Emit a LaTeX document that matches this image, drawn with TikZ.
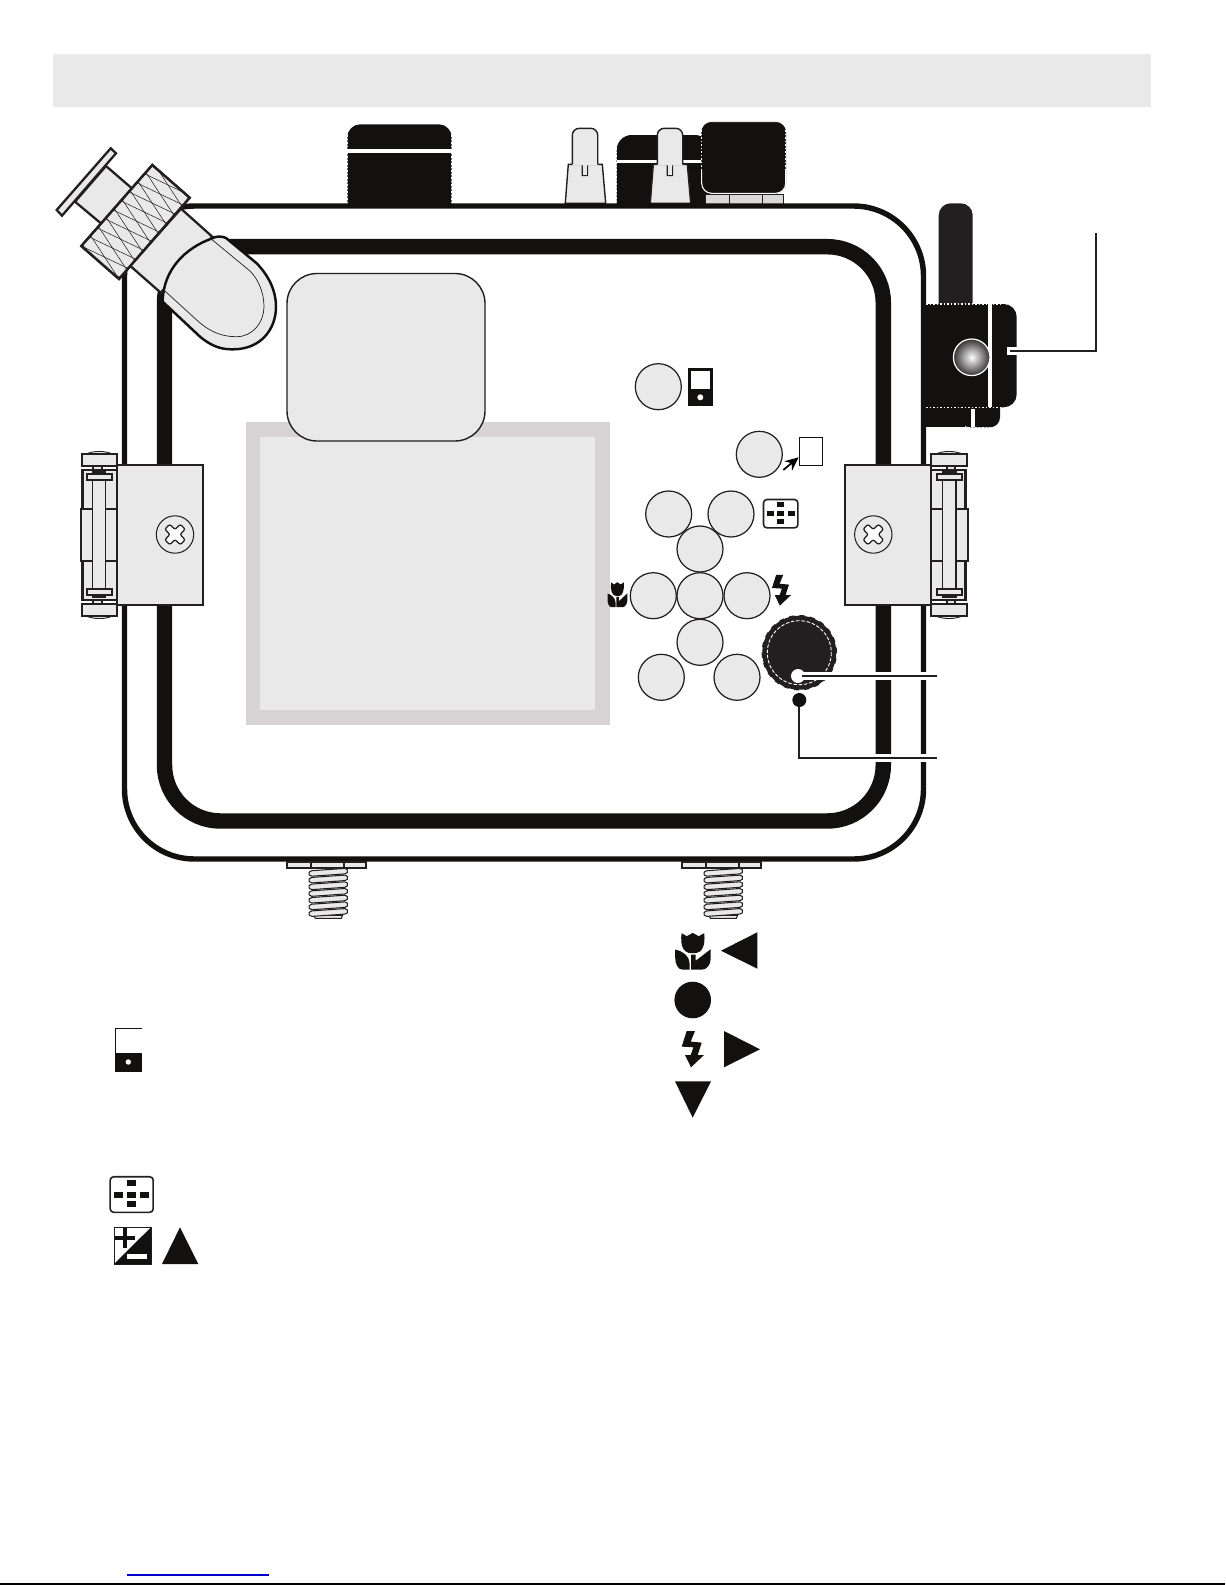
\documentclass[tikz,border=0pt]{standalone}
\usetikzlibrary{arrows.meta}
\definecolor{ink}{HTML}{12110F}
\definecolor{softink}{HTML}{231F20}
\definecolor{panel}{HTML}{E9E9E9}
\definecolor{lcdframe}{HTML}{D7D3D4}
\definecolor{foot}{HTML}{D9D9D9}
\definecolor{linkblue}{HTML}{0000CC}
\tikzstyle{button} = [circle, draw=softink, fill=panel, line width=0.7pt, minimum size=0.92cm, inner sep=0pt]
\tikzstyle{part} = [draw=softink, fill=panel, line width=1.1pt]
\tikzstyle{thinpart} = [draw=softink, fill=panel, line width=0.6pt]
\tikzstyle{leader} = [draw=softink, line width=1.3pt, preaction={draw=white, line width=4.6pt}]
\tikzstyle{arrow} = [line width=1pt,-{Stealth[length=0.27cm,width=0.24cm]}]
\tikzstyle{serration} = [draw=white, line width=0.8pt, dash pattern=on 0.9pt off 1.1pt]
\tikzset{
  latch/.pic={
    \fill [softink!10!white, draw=softink, line width=0.5pt] (-32,-10.7) .. controls (-24,-14.5) and (-12,-14.5) .. (-4,-10.7);
    \fill [softink!10!white, draw=softink, line width=0.5pt] (-32,150.7) .. controls (-24,154.5) and (-12,154.5) .. (-4,150.7);
    \draw [part] (-24,0.7) rectangle (-15.6,5);
    \draw [part] (-24,135) rectangle (-15.6,139.3);
    \draw [part] (-35.6,-10.7) rectangle (0,0.7);
    \draw [part] (-35.6,139.3) rectangle (0,150.7);
    \draw [part, line width=1.5pt] (-34.6,5) rectangle (0,135);
    \draw [part] (-36.6,43.7) rectangle (0,96);
    \draw [thinpart, line width=0.8pt] (-25,7) rectangle (-11.6,132);
    \draw [part] (-30.6,9.3) rectangle (-5.6,15);
    \draw [part] (-30.6,124.3) rectangle (-5.6,130);
    \draw [part] (0,0) rectangle (86,140);
    \draw [thinpart] (57.7,69.5) circle (18.7);
    \draw [fill=white, draw=softink, line width=0.7pt, rounded corners=0.04cm, rotate around={45:(57.7,69.5)}, shift={(57.7,69.5)}]
      (-3.5,-11) -- (3.5,-11) -- (3.5,-3.5) -- (11,-3.5) -- (11,3.5) -- (3.5,3.5) -- (3.5,11) -- (-3.5,11) -- (-3.5,3.5) -- (-11,3.5) -- (-11,-3.5) -- (-3.5,-3.5) -- cycle;
  },
  lever/.pic={
    \draw [thinpart, line width=0.8pt] (-4,36) -- (10,36) -- (10,47) -- (15,47) -- (15,36) -- (30,36) -- (33.4,75) -- (-7,75) -- cycle;
    \fill [panel, rounded corners=0.14cm] (0,37) -- (0,0) -- (25.4,0) -- (25.4,37);
    \draw [softink, line width=0.8pt, rounded corners=0.14cm] (0,36) -- (0,0) -- (25.4,0) -- (25.4,36);
    \fill [panel] (10.4,35) rectangle (14.6,46.6);
  },
  tripod screw/.pic={
    \draw [thinpart] (-14.3,47) -- (14.3,47) -- (13,50) -- (-13,50) -- cycle;
    \foreach \y in {0,6.7,...,40.2}
      \draw [thinpart, rounded corners=0.03cm] (-18,\y+2.5) -- (18,\y) -- (20,\y+3) -- (18,\y+5.5) -- (-18,\y+8) -- (-20,\y+5) -- cycle;
    \draw [part] (-41.6,-6.3) rectangle (37.4,0);
    \draw [softink, line width=1.3pt] (-17.6,-6.3) -- (-17.6,0);
    \draw [softink, line width=1.3pt] (16,-6.3) -- (16,0);
  },
  tulip/.pic={
    \fill [ink] (-11,-18.5) -- (-6,-15.5) -- (0,-18.8) -- (6,-15.5) -- (11.5,-18.5) .. controls (13,-6) and (9,1) .. (3,1.5) -- (-2,1.5) .. controls (-9,1) and (-13,-6) .. (-11,-18.5) -- cycle;
    \fill [ink] (-17.5,-2) .. controls (-10,-1) and (-3,5) .. (-3,12) -- (-3,18) -- (-10,18) .. controls (-15,18) and (-17.5,12) .. (-17.5,6) -- cycle;
    \fill [ink] (-1.5,3) -- (3,3) -- (3,9) -- (18,-2.5) -- (18,7) .. controls (18,13) and (14,18) .. (9,18) -- (-1.5,18) -- cycle;
  },
  bolt/.pic={
    \fill [ink] (-6,-18.3) -- (2.3,-18.3) -- (-2,-7.7) -- (9,-6.7) -- (5,5.7) -- (11.3,5.7) -- (-1.7,18) -- (-7.7,5.7) -- (-2,5.7) -- (0.7,-2) -- (-11,-2.7) -- cycle;
  },
  focus grid/.pic={
    \draw [fill=white, draw=softink, line width=0.9pt, rounded corners=0.07cm] (-21.5,-17.8) rectangle (21.5,17.8);
    \foreach \a/\b in {0/-11.3, -13/0, 0/0, 13/0, 0/9.7}
      \fill [ink] (\a-4.5,\b-3) rectangle (\a+4.5,\b+3);
  }
}
\begin{document}
\begin{tikzpicture}[x=0.02cm, y=-0.02cm]
\useasboundingbox (0,0) rectangle (1225,1585);

\fill [panel] (52.6,53.6) rectangle (1151,107);

% knobs along the top edge
\fill [ink, rounded corners=0.26cm] (347.3,206) -- (347.3,124.3) -- (451.7,124.3) -- (451.7,206);
\fill [white] (347.3,148.7) rectangle (451.7,152.7);
\draw [serration] (347.3,135) -- (347.3,206);
\draw [serration] (451.7,135) -- (451.7,206);
\fill [ink, rounded corners=0.3cm] (616.7,206) -- (616.7,135) -- (710,135) -- (710,206);
\fill [white] (616.7,160) rectangle (705,163.3);
\draw [serration] (616.7,148) -- (616.7,206);
\pic at (572.3,128.3) {lever};
\pic at (657.3,128.3) {lever};
\fill [foot, draw=softink, line width=0.5pt] (705,194) rectangle (729,204);
\fill [foot, draw=softink, line width=0.5pt] (729,194) rectangle (762.3,204);
\fill [foot, draw=softink, line width=0.5pt] (762.3,194) rectangle (783.3,204);
\draw [ink, fill=ink, line width=0.4pt, rounded corners=0.2cm] (701.7,122.3) rectangle (785.7,193.3);
\draw [white, line width=0.6pt, rounded corners=0.2cm] (701.7,170) -- (701.7,193.3) -- (785.7,193.3) -- (785.7,170);
\draw [serration] (701.7,130) -- (701.7,180);
\draw [serration] (785.7,130) -- (785.7,180);

% strobe socket on the right
\fill [softink, rounded corners=0.24cm] (938.7,305) -- (938.7,203.3) -- (972.7,203.3) -- (972.7,305);
\fill [ink, rounded corners=0.2cm] (960,407) -- (960,427.3) -- (1000,427.3) -- (1000,407);
\fill [ink] (925,407) rectangle (965,427.3);
\fill [ink, rounded corners=0.26cm] (960,304) -- (1016.7,304) -- (1016.7,407.3) -- (960,407.3);
\fill [ink] (925,304) rectangle (965,407.3);
\fill [white] (988,304) rectangle (992,407.3);
\fill [white] (971.3,409) rectangle (975.3,427.3);
\draw [serration] (926,304) -- (1000,304);
\draw [serration] (926,407.3) -- (1003,407.3);
\draw [serration] (926,427.3) -- (990,427.3);
\fill [white] (1006.7,346.7) rectangle (1017,355);
\shade [inner color=white, outer color=softink!90!white] (971.7,357.3) circle (18);
\draw [white, line width=0.7pt] (971.7,357.3) circle (18.3);

% housing, gasket and screen
\draw [fill=white, draw=ink, line width=3.1pt, rounded corners=1.4cm] (124.5,206) rectangle (923.5,859);
\draw [draw=ink, line width=8.8pt, rounded corners=1.12cm] (164.5,246.7) rectangle (883.3,821);
\fill [lcdframe] (245.6,422.3) rectangle (610,725);
\fill [panel] (259.8,436.6) rectangle (595.3,709.5);
\draw [panel, fill=panel, draw=softink, line width=0.8pt, rounded corners=0.6cm] (287,273.5) rectangle (485,441);

\pic at (328.3,868.3) {tripod screw};
\pic at (723.3,868.3) {tripod screw};

% view finder
\draw [part, line width=1.3pt] (56.7,210) -- (110.7,148.3) -- (116,153.3) -- (62,215.7) -- cycle;
\draw [part, line width=1.3pt] (106,166) -- (132.3,188.7) -- (101.7,224) -- (75,201.7) -- cycle;
\draw [part, line width=1.3pt] (181,208.7) -- (212.3,236.7) -- (160.7,292.7) -- (130,265.7) -- cycle;
\draw [part, line width=1.3pt] (152.3,165) -- (189.7,197.7) -- (119,279) -- (81.3,246) -- cycle;
\begin{scope}[shift={(81.3,246)}, rotate=48.8]
\clip (0,0) rectangle (108,50);
\foreach \t in {-24,-12,...,120} {
  \draw [softink, line width=0.3pt] (\t,0) -- (\t+14,50);
  \draw [softink, line width=0.3pt] (\t+14,0) -- (\t,50);
}
\end{scope}
\draw [draw=softink, line width=1.3pt] (152.3,165) -- (189.7,197.7) -- (119,279) -- (81.3,246) -- cycle;
\draw [part, draw=ink, line width=1.4pt] (162.7,301.7) -- (200,336.7) .. controls (215,349) and (225,349.3) .. (233.3,349.3) .. controls (260,349.3) and (276,330) .. (276,306.7) .. controls (276,290) and (268,275) .. (256.7,263.3) -- (226,238) .. controls (222,236) and (216,236) .. (212.3,238.3) .. controls (185,248) and (163,270) .. (162.7,301.7) -- cycle;
\draw [softink, line width=0.4pt] (162.7,289) -- (196.7,320) .. controls (212,334) and (225,336.7) .. (236.7,336.7) .. controls (253,336.7) and (264,322) .. (264,306.7) .. controls (264,292) and (258,279) .. (250,271) -- (210,238);

% latches
\pic at (117.3,465) {latch};
\pic [xscale=-1] at (931,465) {latch};

% buttons
\node (display) [button] at (658.3,386.7) {};
\node (shutter) [button] at (759.3,454.3) {};
\node (menu) [button] at (668.7,514) {};
\node (afpoint) [button] at (731,514) {};
\node (up) [button] at (700,549) {};
\node (left) [button] at (653.3,595.7) {};
\node (okay) [button] at (700,595.7) {};
\node (right) [button] at (747,595.7) {};
\node (down) [button] at (700,642.3) {};
\node (play) [button] at (661.3,677.3) {};
\node (erase) [button] at (737,677.3) {};

% mode dial
\node (dial) [circle, fill=softink, draw=softink, dashed, line width=0.8pt, minimum size=1.48cm, inner sep=0pt] at (799.3,652.7) {};
\draw [white, line width=0.5pt, dash pattern=on 2pt off 1pt] (dial.center) circle (32);

% small symbols beside the buttons
\node (memory) [rectangle, fill=ink, minimum width=0.5cm, minimum height=0.75cm, inner sep=0pt] at (700.5,386.8) {};
\fill [white] (691.3,371) rectangle (710,388.7);
\fill [white] (700.3,397.3) circle (3);
\node (frame) [rectangle, draw=ink, fill=white, line width=0.7pt, minimum width=0.47cm, minimum height=0.57cm, inner sep=0pt] at (811,451.5) {};
\coordinate (framefoot) at (783.3,470);
\draw [arrow] (framefoot) -- (frame.west |- 0,457.3);
\pic [scale=0.8] at (780.7,513.7) {focus grid};
\pic [xscale=0.56, yscale=0.68] at (617.3,595) {tulip};
\pic [scale=0.85] at (781.3,590.3) {bolt};

% leaders
\coordinate (strobeend) at (1095.7,233.3);
\coordinate (dialend) at (937,676);
\coordinate (leverend) at (937,757.7);
\coordinate (dialcentre) at (798,676);
\coordinate (levercentre) at (799.3,700);
\draw [softink, line width=1.1pt] (1010,351) -- (1095.7,351) -- (strobeend);
\path [leader] (dialcentre) -- (dialend);
\path [leader] (levercentre) -- (799.3,757.7) -- (leverend);
\node (dialmark) [circle, fill=white, minimum size=0.28cm, inner sep=0pt] at (dialcentre) {};
\node (leverdot) [circle, fill=ink, minimum size=0.28cm, inner sep=0pt] at (levercentre) {};
\draw [softink, line width=1.3pt] (dialcentre) ++(4,0) -- ++(8,0);

% legend symbols
\pic at (692.7,951.7) {tulip};
\fill [ink] (721,950.7) -- (757.3,932.3) -- (757.3,968.7) -- cycle;
\fill [ink] (692.7,1000) circle (18.3);
\pic at (692.7,1049.3) {bolt};
\fill [ink] (724,1031) -- (760,1049.3) -- (724,1067.3) -- cycle;
\fill [ink] (675,1081.3) -- (711,1081.3) -- (692.7,1117.7) -- cycle;

\draw [ink, line width=0.6pt] (142,1028.3) -- (115.3,1028.3) -- (115.3,1053);
\fill [ink] (115,1052.7) rectangle (142,1071.7);
\fill [white] (128.3,1062) circle (2.7);
\pic at (131.7,1194.5) {focus grid};

\draw [draw=softink, line width=0.4pt, fill=white] (114,1227.3) rectangle (151,1264);
\fill [ink] (114,1264) -- (151,1227.3) -- (151,1264) -- cycle;
\fill [ink] (115,1235.7) rectangle (135,1239.7);
\fill [ink] (123,1228.3) rectangle (127,1248.3);
\fill [white] (126.7,1254.3) rectangle (146.7,1258.7);
\fill [ink] (162,1264) -- (198.3,1264) -- (180,1227.3) -- cycle;

% page foot
\draw [linkblue, line width=0.6pt] (127,1575) -- (269,1575);
\draw [black, line width=0.6pt] (0,1584) -- (1225,1584);
\end{tikzpicture}
\end{document}
